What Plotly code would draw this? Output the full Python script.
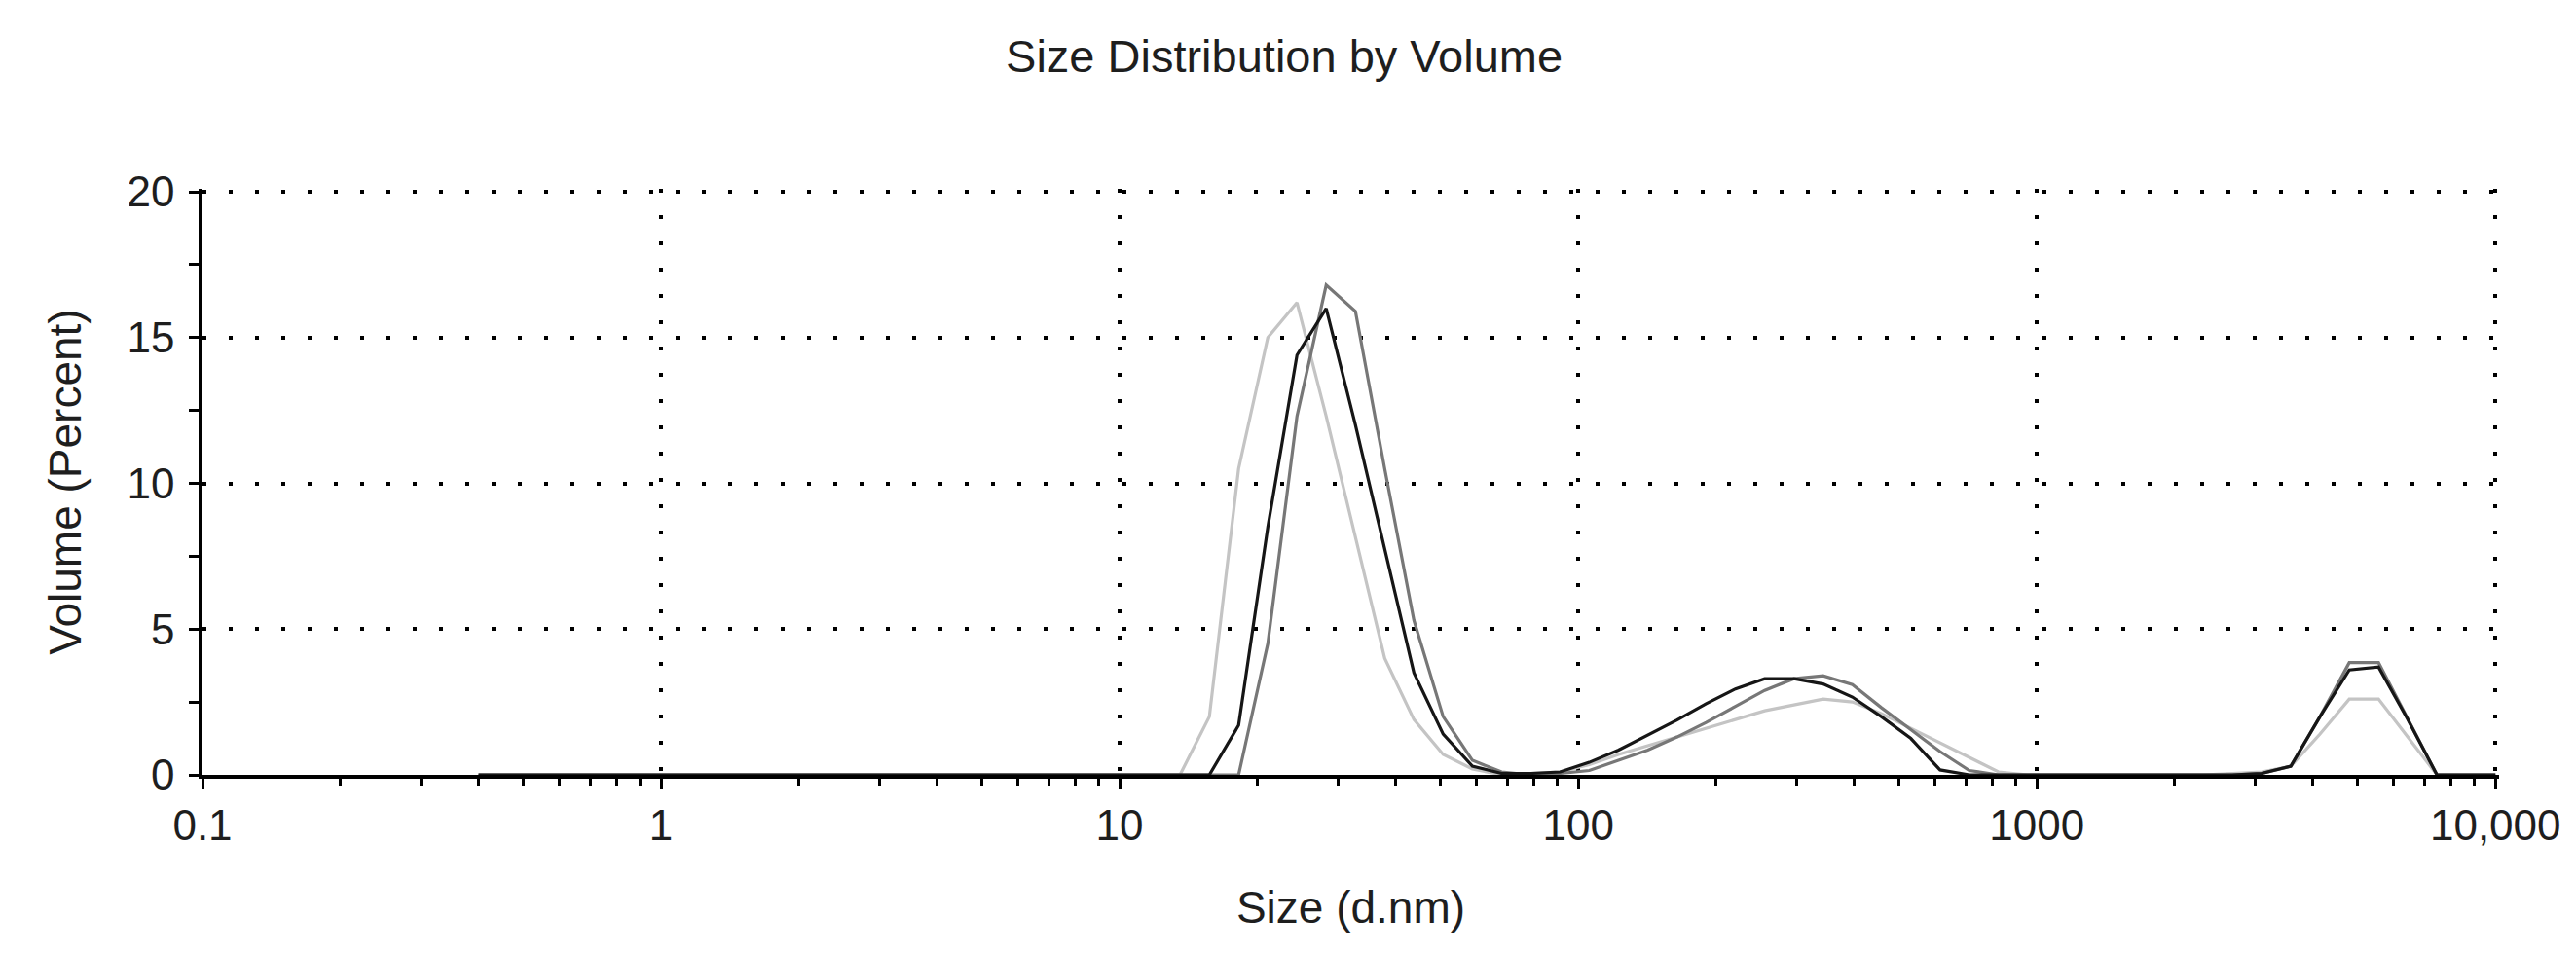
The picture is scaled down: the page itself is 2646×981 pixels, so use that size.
import plotly.graph_objects as go

# Size classes (d.nm)
size_nm = [0.4000, 0.4632, 0.5365, 0.6213, 0.7195, 0.8332, 0.9649, 1.117, 1.294, 1.499,
           1.736, 2.010, 2.328, 2.696, 3.122, 3.615, 4.187, 4.849, 5.615, 6.503,
           7.531, 8.721, 10.10, 11.70, 13.54, 15.69, 18.17, 21.04, 24.36, 28.21,
           32.67, 37.84, 43.82, 50.75, 58.77, 68.06, 78.82, 91.28, 105.7, 122.4,
           141.8, 164.2, 190.1, 220.2, 255.0, 295.3, 342.0, 396.1, 458.7, 531.2,
           615.1, 712.4, 825.0, 955.4, 1106, 1281, 1484, 1718, 1990, 2305,
           2669, 3091, 3580, 4145, 4801, 5560, 6439, 7456, 8635, 10000]

# Volume (%) per record
vol_light = [0, 0, 0, 0, 0, 0, 0, 0, 0, 0,
             0, 0, 0, 0, 0, 0, 0, 0, 0, 0,
             0, 0, 0, 0, 0.0, 2.0, 10.5, 15.0, 16.2, 12.3,
             8.2, 4.0, 1.9, 0.7, 0.2, 0.0, 0.05, 0.1, 0.35, 0.7,
             1.0, 1.3, 1.6, 1.9, 2.2, 2.4, 2.6, 2.5, 2.1, 1.6,
             1.1, 0.6, 0.1, 0, 0, 0, 0, 0, 0, 0,
             0.05, 0.1, 0.3, 1.4, 2.6, 2.6, 1.3, 0, 0, 0]

vol_mid = [0, 0, 0, 0, 0, 0, 0, 0, 0, 0,
           0, 0, 0, 0, 0, 0, 0, 0, 0, 0,
           0, 0, 0, 0, 0, 0, 0.0, 4.5, 12.3, 16.8,
           15.9, 10.5, 5.3, 2.0, 0.5, 0.1, 0.0, 0.05, 0.15, 0.5,
           0.85, 1.3, 1.8, 2.35, 2.9, 3.3, 3.4, 3.1, 2.3, 1.55,
           0.8, 0.15, 0, 0, 0, 0, 0, 0, 0, 0,
           0, 0.05, 0.3, 2.0, 3.85, 3.85, 1.9, 0, 0, 0]

vol_dark = [0, 0, 0, 0, 0, 0, 0, 0, 0, 0,
            0, 0, 0, 0, 0, 0, 0, 0, 0, 0,
            0, 0, 0, 0, 0, 0.0, 1.7, 8.5, 14.4, 16.0,
            12.0, 7.8, 3.5, 1.4, 0.3, 0.05, 0.05, 0.1, 0.43, 0.85,
            1.36, 1.88, 2.44, 2.95, 3.3, 3.3, 3.12, 2.67, 1.99, 1.25,
            0.17, 0, 0, 0, 0, 0, 0, 0, 0, 0,
            0, 0.05, 0.3, 2.0, 3.6, 3.7, 1.9, 0, 0, 0]

x_tickvals = [0.1, 1, 10, 100, 1000, 10000]
x_ticktext = ["0.1", "1", "10", "100", "1000", "10,000"]
y_tickvals = [0, 5, 10, 15, 20]
y_minor = [2.5, 7.5, 12.5, 17.5]
x_minor = [m * 10.0 ** k for k in range(-1, 4) for m in range(2, 10)]

FONT = "Liberation Sans, Arial, sans-serif"
TXT = "#1e1e1e"

fig = go.Figure()
for vals, color in [(vol_light, "#c4c4c4"), (vol_mid, "#777777"), (vol_dark, "#161616")]:
    fig.add_trace(go.Scatter(x=size_nm, y=vals, mode="lines",
                             line=dict(color=color, width=3.2),
                             showlegend=False, hoverinfo="x+y"))

grid = dict(showgrid=True, gridcolor="black", gridwidth=4, griddash="4px,23px")
XR = [-1, 4.008]
YR = [0, 20.1]

fig.update_layout(
    width=2646, height=981,
    paper_bgcolor="white", plot_bgcolor="white",
    margin=dict(l=200, r=87, t=186, b=193),
    font=dict(family=FONT, color=TXT),
    title=dict(text="Size Distribution by Volume", x=0.4955, xanchor="center",
               y=0.950, yanchor="middle", font=dict(size=47, family=FONT, color=TXT)),
    xaxis=dict(type="log", range=XR, tickvals=x_tickvals, ticktext=x_ticktext,
               showline=True, linecolor="black", linewidth=4, zeroline=False,
               ticks="outside", ticklen=10, tickwidth=3, tickcolor="black",
               ticklabelstandoff=0,
               minor=dict(tickvals=x_minor, ticks="outside", ticklen=7, tickwidth=3,
                          tickcolor="black", showgrid=False),
               tickfont=dict(size=44, family=FONT, color=TXT),
               title=dict(text="Size (d.nm)", font=dict(size=46, family=FONT, color=TXT),
                          standoff=46),
               **grid),
    yaxis=dict(range=YR, tickvals=y_tickvals,
               showline=True, linecolor="black", linewidth=3.5, zeroline=False,
               ticks="outside", ticklen=10, tickwidth=3, tickcolor="black",
               ticklabelstandoff=6,
               minor=dict(tickvals=y_minor, ticks="outside", ticklen=10, tickwidth=3,
                          tickcolor="black", showgrid=False),
               tickfont=dict(size=44, family=FONT, color=TXT),
               title=dict(text="Volume (Percent)", font=dict(size=46, family=FONT, color=TXT),
                          standoff=33),
               **grid),
    xaxis2=dict(type="log", range=XR, overlaying="x", anchor="y", side="bottom",
                tickvals=x_tickvals, showticklabels=False, showgrid=False, showline=False,
                zeroline=False, ticks="inside", ticklen=10, tickwidth=3, tickcolor="black",
                minor=dict(tickvals=x_minor, ticks="inside", ticklen=7, tickwidth=3,
                           tickcolor="black", showgrid=False)),
    yaxis2=dict(range=YR, overlaying="y", anchor="x", side="left",
                tickvals=y_tickvals, showticklabels=False, showgrid=False, showline=False,
                zeroline=False, ticks="inside", ticklen=10, tickwidth=3, tickcolor="black",
                minor=dict(tickvals=y_minor, ticks="inside", ticklen=10, tickwidth=3,
                           tickcolor="black", showgrid=False)),
)

fig.write_html("out.html")
